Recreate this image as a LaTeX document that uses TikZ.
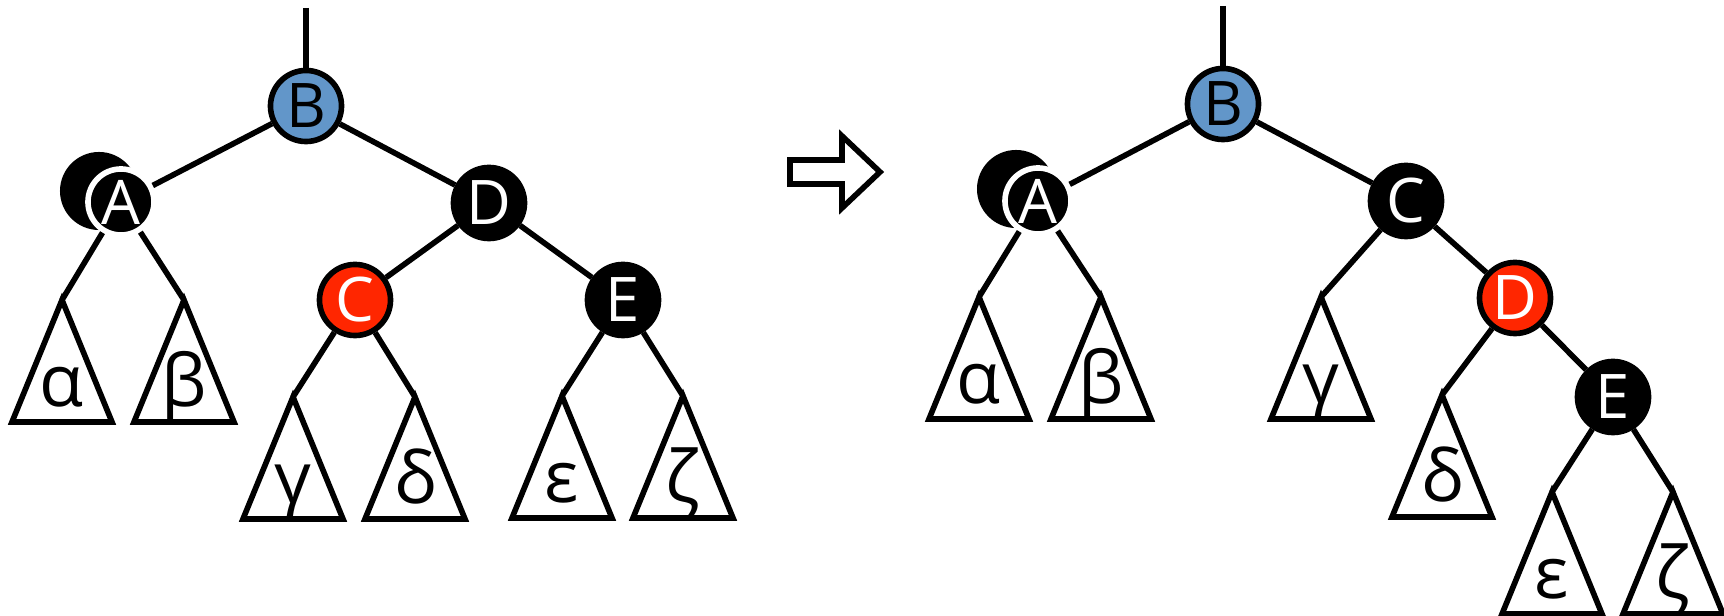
\documentclass[tikz,border=0pt]{standalone}
\usepackage{fontspec}
\setmainfont{Open Sans}
\usetikzlibrary{positioning}
\definecolor{nodeblue}{RGB}{98,150,201}
\definecolor{nodered}{RGB}{255,38,0}
\newcommand{\subtree}[4]{%
  \coordinate (#1) at (#2,#3);
  \draw (#1) -- ++(-50,122) -- ++(100,0) -- cycle;
  \node[greek] (#1lbl) at (#2,#3+107) {#4};
}
\begin{document}
\begin{tikzpicture}[x=0.01cm, y=-0.01cm, line width=1.6pt,
    rb/.style={circle, draw=black, inner sep=0pt, minimum size=0.71cm, line width=1.6pt, font=\fontsize{17.5}{20}\selectfont},
    blacknode/.style={rb, fill=black, text=white},
    rednode/.style={rb, fill=nodered, text=white},
    bluenode/.style={rb, fill=nodeblue, text=black},
    doublenode/.style={rb, fill=black, draw=white, text=white, minimum size=0.66cm},
    shadow/.style={circle, fill=black, inner sep=0pt, minimum size=0.78cm},
    greek/.style={anchor=base, inner sep=0pt, font=\fontsize{20.5}{23}\selectfont}]
  \useasboundingbox (0,0) rectangle (1724,616);
  % before
  \node[shadow] (lAs) at (99,191) {};
  \node[bluenode] (lB) at (306,106) {B};
  \node[doublenode] (lA) at (121,202) {A};
  \node[blacknode] (lD) at (489,203) {D};
  \node[rednode] (lC) at (355,300) {C};
  \node[blacknode] (lE) at (623,300) {E};
  \coordinate (ltop) at (306,8);
  \subtree{lal}{62}{300}{α}
  \subtree{lbe}{184}{300}{β}
  \subtree{lga}{293}{397}{γ}
  \subtree{lde}{415}{397}{δ}
  \subtree{lep}{562}{396}{ε}
  \subtree{lze}{683}{396}{ζ}
  \draw (ltop) -- (lB);
  \draw (lB) -- (lA);
  \draw (lB) -- (lD);
  \draw (lA) -- (lal);
  \draw (lA) -- (lbe);
  \draw (lD) -- (lC);
  \draw (lD) -- (lE);
  \draw (lC) -- (lga);
  \draw (lC) -- (lde);
  \draw (lE) -- (lep);
  \draw (lE) -- (lze);
  % arrow
  \draw (790,160) -- (842,160) -- (842,136) -- (880,172) -- (842,208) -- (842,184) -- (790,184) -- cycle;
  % after
  \node[shadow] (rAs) at (1016,189) {};
  \node[bluenode] (rB) at (1223,104) {B};
  \node[doublenode] (rA) at (1038,201) {A};
  \node[blacknode] (rC) at (1406,201) {C};
  \node[rednode] (rD) at (1515,298) {D};
  \node[blacknode] (rE) at (1613,397) {E};
  \coordinate (rtop) at (1223,6);
  \subtree{ral}{979}{297}{α}
  \subtree{rbe}{1101}{297}{β}
  \subtree{rga}{1321}{297}{γ}
  \subtree{rde}{1442}{395}{δ}
  \subtree{rep}{1552}{492}{ε}
  \subtree{rze}{1673}{492}{ζ}
  \draw (rtop) -- (rB);
  \draw (rB) -- (rA);
  \draw (rB) -- (rC);
  \draw (rA) -- (ral);
  \draw (rA) -- (rbe);
  \draw (rC) -- (rga);
  \draw (rC) -- (rD);
  \draw (rD) -- (rde);
  \draw (rD) -- (rE);
  \draw (rE) -- (rep);
  \draw (rE) -- (rze);
\end{tikzpicture}
\end{document}
